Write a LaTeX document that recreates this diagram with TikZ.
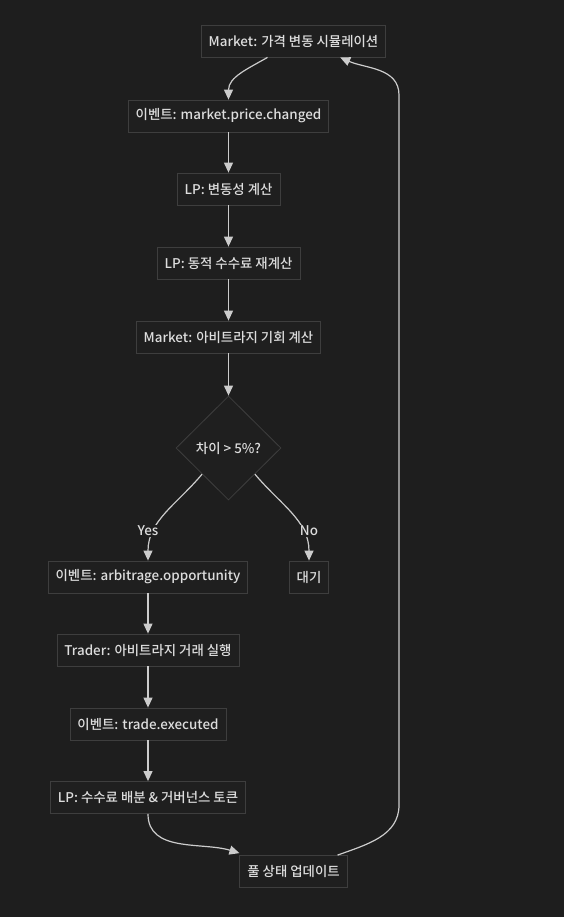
\documentclass[tikz,border=0pt]{standalone}
\usepackage{fontspec}
\setmainfont{Noto Sans CJK KR}[UprightFont=* Medium]
\usetikzlibrary{arrows.meta,shapes.geometric}
\definecolor{bgcol}{HTML}{1E1E1E}
\definecolor{boxfill}{HTML}{1F1F1F}
\definecolor{boxline}{HTML}{3E3E3E}
\definecolor{txtcol}{HTML}{DDDDDD}
\definecolor{linkcol}{HTML}{CCCCCC}

\begin{document}
\begin{tikzpicture}[x=1pt,y=-1pt]
	\tikzstyle{stepbox}=[draw=boxline, fill=boxfill, text=txtcol, minimum height=32pt, inner xsep=7.5pt, line width=0.8pt, font=\fontsize{13.4}{16}\selectfont]
	\tikzstyle{choice}=[diamond, draw=boxline, fill=boxfill, text=txtcol, minimum width=105pt, minimum height=104pt, inner sep=0pt, line width=0.8pt, font=\fontsize{13.4}{16}\selectfont]
	\tikzstyle{link}=[draw=linkcol, line width=1.2pt, -{Triangle[length=10pt,width=9pt]}]
	\tikzstyle{edgetext}=[fill=bgcol, text=txtcol, inner sep=1pt, font=\fontsize{13.4}{16}\selectfont]
	\useasboundingbox[fill=bgcol] (0,0) rectangle (564,917);
	\node[stepbox] (simulate) at (293.5,41) {Market: 가격 변동 시뮬레이션};
	\node[stepbox] (pricechg) at (228.5,116) {이벤트: market.price.changed};
	\node[stepbox] (volcalc) at (228.5,189) {LP: 변동성 계산};
	\node[stepbox] (feecalc) at (228.5,263) {LP: 동적 수수료 재계산};
	\node[stepbox] (arbcalc) at (228.5,337) {Market: 아비트라지 기회 계산};
	\node[choice] (gap) at (228.5,448) {차이 > 5\%?};
	\node[stepbox] (oppty) at (148,577) {이벤트: arbitrage.opportunity};
	\node[stepbox] (wait) at (309,577) {대기};
	\node[stepbox] (trade) at (148,650) {Trader: 아비트라지 거래 실행};
	\node[stepbox] (executed) at (148,724) {이벤트: trade.executed};
	\node[stepbox] (payout) at (148,797.5) {LP: 수수료 배분 \& 거버넌스 토큰};
	\node[stepbox] (pool) at (293.5,871.5) {풀 상태 업데이트};
	\coordinate (rightlow) at (399,805);
	\coordinate (righthigh) at (399,95);

	\draw[link] ([xshift=-26pt]simulate.south) to[out=-150,in=90] (pricechg.north);
	\draw[link] (pricechg) -- (volcalc);
	\draw[link] (volcalc) -- (feecalc);
	\draw[link] (feecalc) -- (arbcalc);
	\draw[link] (arbcalc) -- (gap);
	\draw[link] (gap.south west) to[out=-130,in=90] (oppty.north);
	\draw[link] (gap.south east) to[out=-50,in=90] (wait.north);
	\draw[link] (oppty) -- (trade);
	\draw[link] (trade) -- (executed);
	\draw[link] (executed) -- (payout);
	\draw[link] (payout.south) to[out=-90,in=163] ([yshift=2pt]pool.north west);
	\draw[link] ([xshift=-10pt]pool.north east) to[out=20,in=-90] (rightlow) -- (righthigh) to[out=90,in=-24] ([xshift=-46pt]simulate.south east);
	\node[edgetext] (yeslbl) at (148,531) {Yes};
	\node[edgetext] (nolbl) at (309,531) {No};
\end{tikzpicture}
\end{document}
